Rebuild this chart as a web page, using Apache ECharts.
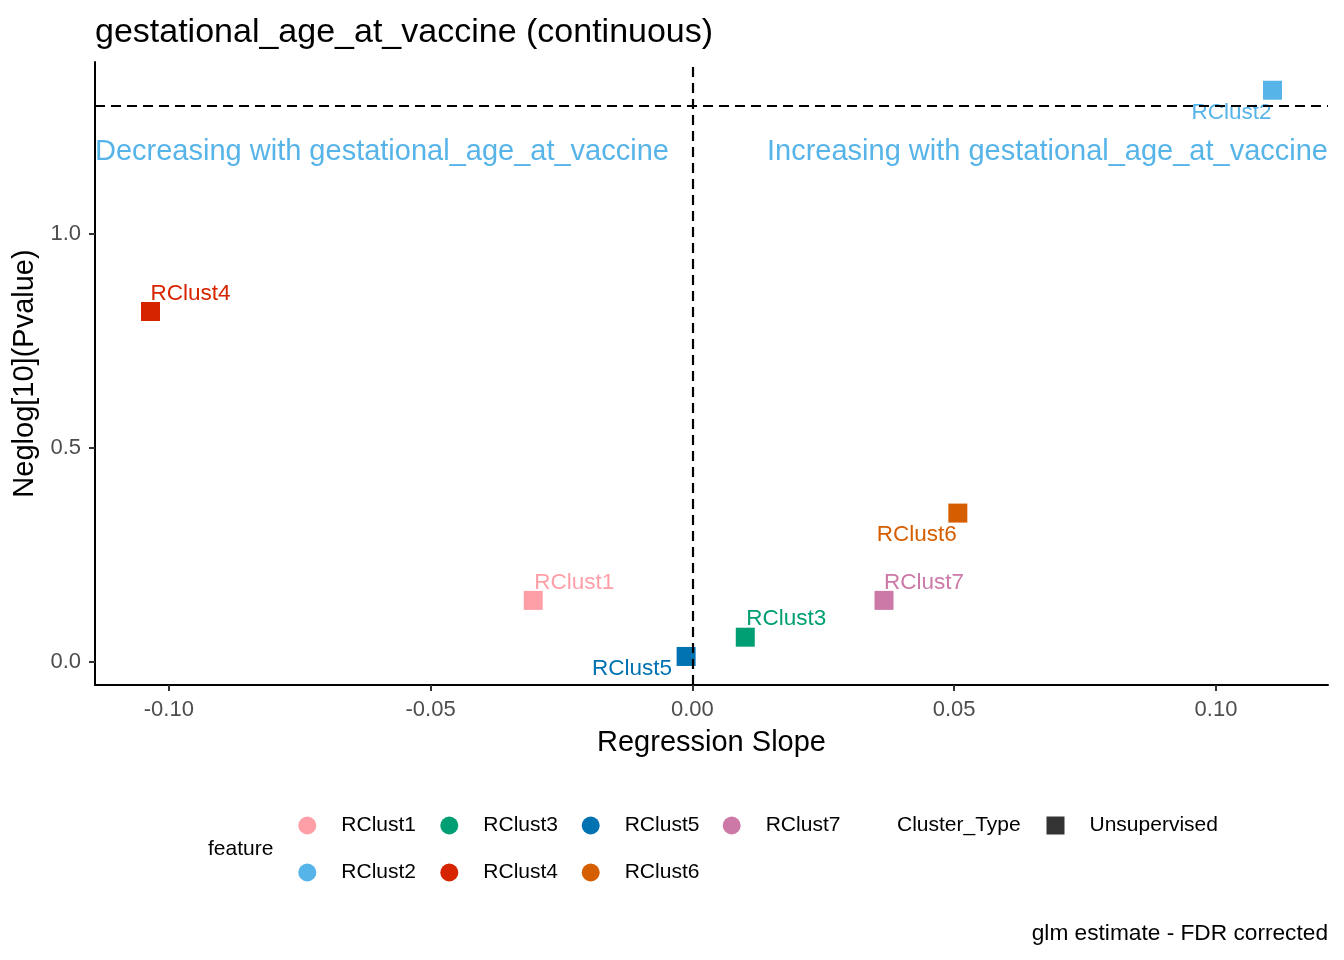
<!DOCTYPE html>
<html>
<head>
<meta charset="utf-8">
<script src="https://cdn.jsdelivr.net/npm/echarts@6/dist/echarts.min.js"></script>
<style>
  html, body { margin: 0; padding: 0; background: #fff; }
  #chart { width: 1344px; height: 960px; }
</style>
</head>
<body>
<div id="chart"></div>
<script>
// data
var features = ['RClust1', 'RClust2', 'RClust3', 'RClust4', 'RClust5', 'RClust6', 'RClust7'];
var slopes = [-0.0304, 0.1108, 0.0101, -0.1035, -0.0012, 0.0507, 0.0366];
var neglogP = [0.144, 1.336, 0.058, 0.819, 0.013, 0.348, 0.144];
var featureColors = ['#FE9FA8', '#56B4E9', '#009E73', '#D62300', '#0072B2', '#D55E00', '#CC79A7'];
var xTicks = [-0.10, -0.05, 0.00, 0.05, 0.10];
var yTicks = [0.0, 0.5, 1.0];
var sigLine = 1.303;   // ~ -log10(0.05), as drawn
var legendRow1 = ['RClust1', 'RClust3', 'RClust5', 'RClust7'];
var legendRow2 = ['RClust2', 'RClust4', 'RClust6'];
var clusterTypes = ['Unsupervised'];

var FONT = 'Liberation Sans, Arial, sans-serif';

// where each text label sits relative to its point (ggrepel-ish)
var labelPlace = {
    RClust1: { align: 'left', offset: [1, -18] },
    RClust2: { align: 'right', offset: [-1, 23] },
    RClust3: { align: 'left', offset: [1, -18] },
    RClust4: { align: 'left', offset: [0, -18] },
    RClust5: { align: 'right', offset: [-14, 12] },
    RClust6: { align: 'right', offset: [-1, 22] },
    RClust7: { align: 'left', offset: [0, -18] }
};

var chart = echarts.init(document.getElementById('chart'));

var series = [];
// dummy series for the Cluster_Type legend, also carries the reference lines
series.push({
    name: clusterTypes[0],
    type: 'scatter',
    data: [],
    symbol: 'rect',
    itemStyle: { color: '#000' },
    z: 1,
    markLine: {
        silent: true,
        symbol: 'none',
        label: { show: false },
        lineStyle: { color: '#000', type: [10, 6], width: 2.2 },
        data: [{ xAxis: 0 }, { yAxis: sigLine }]
    }
});
features.forEach(function (f, i) {
    var lp = labelPlace[f];
    series.push({
        name: f,
        type: 'scatter',
        symbol: 'rect',
        symbolSize: 19,
        z: 3,
        itemStyle: { color: featureColors[i], opacity: 1 },
        label: {
            show: true,
            formatter: f,
            position: 'inside',
            align: lp.align,
            verticalAlign: 'middle',
            offset: lp.offset,
            color: featureColors[i],
            fontSize: 22.5,
            fontFamily: FONT
        },
        emphasis: { disabled: true },
        data: [[slopes[i], neglogP[i]]]
    });
});

// one legend per key so the columns line up like ggplot's guide
function legendItem(name, iconCenterX, top, icon, color) {
    var item = { name: name, icon: icon };
    if (color) item.itemStyle = { color: color };
    return {
        data: [item],
        left: iconCenterX - 9,
        top: top,
        padding: 0,
        itemWidth: 58,
        itemHeight: 18,
        symbolKeepAspect: true,
        textStyle: { fontSize: 21, fontFamily: FONT, color: '#000' },
        selectedMode: false
    };
}

var colX = [307.3, 449.3, 590.7, 731.7];
var legends = [];
legendRow1.forEach(function (n, i) { legends.push(legendItem(n, colX[i], 815, 'circle')); });
legendRow2.forEach(function (n, i) { legends.push(legendItem(n, colX[i], 862, 'circle')); });
legends.push(legendItem(clusterTypes[0], 1055.5, 815, 'path://M0,0 L10,0 L10,10 L0,10 Z', '#000'));

var option = {
    animation: false,
    backgroundColor: '#fff',
    color: featureColors,
    title: [
        { text: 'gestational_age_at_vaccine (continuous)', left: 95, top: 16, padding: 0,
          textStyle: { fontSize: 34, fontWeight: 'normal', color: '#000', fontFamily: FONT } },
        { text: 'glm estimate - FDR corrected', right: 16, top: 922, padding: 0,
          textStyle: { fontSize: 22.7, fontWeight: 'normal', color: '#000', fontFamily: FONT } }
    ],
    grid: { left: 95, right: 16, top: 62, bottom: 275, containLabel: false },
    xAxis: {
        type: 'value',
        min: -0.1141,
        max: 0.1214,
        name: 'Regression Slope',
        nameLocation: 'middle',
        nameGap: 43,
        nameTextStyle: { fontSize: 29, color: '#000', fontFamily: FONT },
        axisLine: { onZero: false, lineStyle: { color: '#000', width: 2 } },
        axisTick: { show: true, length: 6, lineStyle: { color: '#333', width: 2 }, customValues: xTicks },
        axisLabel: {
            customValues: xTicks,
            margin: 14,
            fontSize: 22,
            color: '#4D4D4D',
            fontFamily: FONT,
            formatter: function (v) { return v.toFixed(2); }
        },
        splitLine: { show: false }
    },
    yAxis: {
        type: 'value',
        min: -0.0537,
        max: 1.402,
        name: 'Neglog[10](Pvalue)',
        nameLocation: 'middle',
        nameGap: 50,
        nameRotate: 90,
        nameTextStyle: { fontSize: 29, color: '#000', fontFamily: FONT },
        axisLine: { onZero: false, lineStyle: { color: '#000', width: 2 } },
        axisTick: { show: true, length: 6, lineStyle: { color: '#333', width: 2 }, customValues: yTicks },
        axisLabel: {
            customValues: yTicks,
            margin: 14,
            fontSize: 22,
            color: '#4D4D4D',
            fontFamily: FONT,
            formatter: function (v) { return v.toFixed(1); }
        },
        splitLine: { show: false }
    },
    legend: legends,
    graphic: [
        { type: 'text', left: 95, top: 137, silent: true,
          style: { text: 'Decreasing with gestational_age_at_vaccine', fill: '#56B4E9', fontSize: 29, fontFamily: FONT } },
        { type: 'text', right: 16, top: 137, silent: true,
          style: { text: 'Increasing with gestational_age_at_vaccine', fill: '#56B4E9', fontSize: 29, fontFamily: FONT } },
        { type: 'text', left: 208, top: 839, silent: true,
          style: { text: 'feature', fill: '#000', fontSize: 21, fontFamily: FONT } },
        { type: 'text', left: 897, top: 815, silent: true,
          style: { text: 'Cluster_Type', fill: '#000', fontSize: 21, fontFamily: FONT } }
    ],
    series: series
};

chart.setOption(option);
</script>
</body>
</html>
